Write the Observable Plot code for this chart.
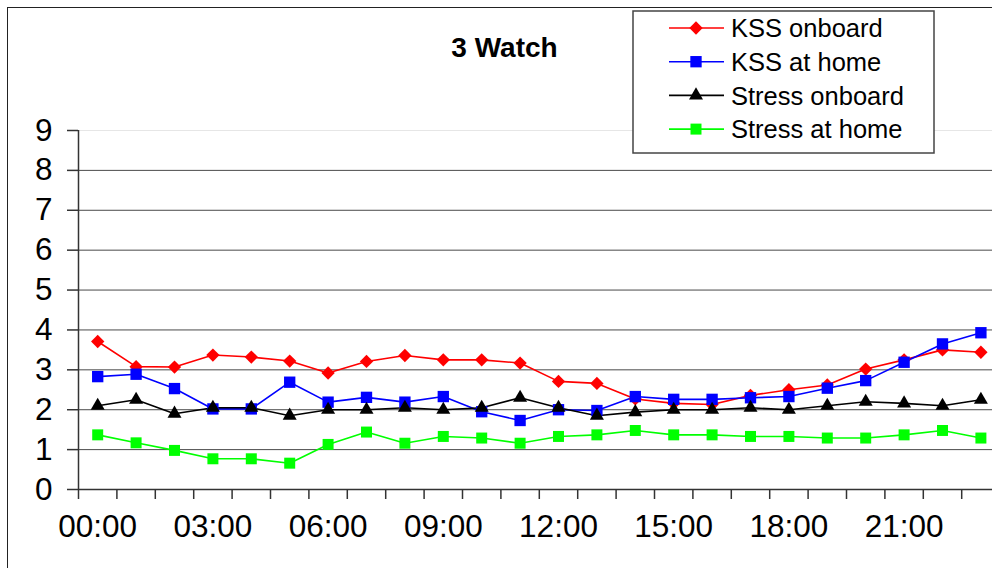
<!DOCTYPE html>
<html><head><meta charset="utf-8">
<script src="https://cdn.jsdelivr.net/npm/d3@7"></script>
<script src="https://cdn.jsdelivr.net/npm/@observablehq/plot@0.6"></script>
<style>
html,body{margin:0;padding:0;background:#fff;overflow:hidden;}
#wrap{position:relative;width:992px;height:568px;overflow:hidden;font-family:"Liberation Sans",Arial,sans-serif;}
#frame{position:absolute;left:7px;top:7px;width:1200px;height:800px;border:1.5px solid #222;box-sizing:border-box;}
#chart{position:absolute;left:0;top:0;}
#overlay{position:absolute;left:0;top:0;}
</style></head><body>
<div id="wrap"><div id="frame"></div><div id="chart"></div><svg id="overlay" width="992" height="568"></svg></div>
<script>
const title = "3 Watch";
const hours = ["00:00","01:00","02:00","03:00","04:00","05:00","06:00","07:00","08:00","09:00","10:00","11:00",
               "12:00","13:00","14:00","15:00","16:00","17:00","18:00","19:00","20:00","21:00","22:00","23:00"];
const labelHours = ["00:00","03:00","06:00","09:00","12:00","15:00","18:00","21:00"];
const yTicks = [0,1,2,3,4,5,6,7,8,9];
const kssOnboard    = [3.71,3.08,3.07,3.37,3.32,3.22,2.92,3.21,3.36,3.25,3.25,3.17,2.71,2.66,2.27,2.16,2.13,2.36,2.50,2.62,3.02,3.25,3.50,3.44];
const kssAtHome     = [2.83,2.89,2.53,2.02,2.02,2.69,2.19,2.31,2.19,2.33,1.95,1.73,2.00,1.98,2.33,2.26,2.26,2.30,2.33,2.54,2.73,3.19,3.65,3.93];
const stressOnboard = [2.10,2.25,1.90,2.05,2.05,1.85,2.00,2.00,2.05,2.00,2.05,2.30,2.05,1.85,1.94,2.00,2.00,2.05,2.00,2.10,2.20,2.16,2.10,2.25];
const stressAtHome  = [1.37,1.17,0.98,0.77,0.77,0.66,1.13,1.44,1.16,1.33,1.29,1.16,1.33,1.37,1.48,1.37,1.37,1.33,1.33,1.29,1.29,1.37,1.48,1.29];

const series = [
  {name:"KSS onboard",    values:kssOnboard,    color:"#ff0000", symbol:"diamond2", d3sym:d3.symbolDiamond2, r:6.0},
  {name:"KSS at home",    values:kssAtHome,     color:"#0000ff", symbol:"square",   d3sym:d3.symbolSquare,   r:6.4},
  {name:"Stress onboard", values:stressOnboard, color:"#000000", symbol:"triangle", d3sym:d3.symbolTriangle, r:5.2},
  {name:"Stress at home", values:stressAtHome,  color:"#00ff00", symbol:"square",   d3sym:d3.symbolSquare,   r:6.2}
];

const boundaries = d3.range(hours.length + 1).map(k => k - 0.5);
const labelIdx = labelHours.map(h => hours.indexOf(h));

const marks = [
  Plot.ruleY(yTicks.filter(v => v > 0 && v < 9), {stroke:"#4a4a4a", strokeWidth:1}),
  Plot.ruleY([9], {stroke:"#e6e6e6", strokeWidth:1}),
  Plot.axisY({ticks:yTicks, tickSize:11, tickPadding:15, fontSize:31.5, stroke:"#333", strokeWidth:1.5, tickFormat:d3.format("d"), label:null}),
  Plot.axisX({ticks:boundaries, tickSize:10, tickFormat:() => "", stroke:"#333", strokeWidth:1.5, label:null}),
  Plot.axisX({ticks:labelIdx, tickSize:0, tickPadding:25, fontSize:31.5, tickFormat:i => hours[i], label:null}),
  Plot.ruleX([-0.5], {stroke:"#333", strokeWidth:1.5}),
  Plot.ruleY([0], {stroke:"#333", strokeWidth:1.5})
];
for (const s of series) {
  const data = s.values.map((v, i) => ({i, v, hour:hours[i]}));
  marks.push(Plot.line(data, {x:"i", y:"v", stroke:s.color, strokeWidth:1.6}));
}
for (const s of series) {
  const data = s.values.map((v, i) => ({i, v, hour:hours[i]}));
  marks.push(Plot.dot(data, {x:"i", y:"v", symbol:() => s.symbol, r:s.r, fill:s.color, stroke:"none"}));
}

const chart = Plot.plot({
  width:992, height:568,
  marginLeft:78, marginRight:0, marginTop:130, marginBottom:79,
  x:{type:"linear", domain:[-0.5, hours.length - 0.5], range:[78, 78 + 38.4 * hours.length], label:null},
  y:{domain:[0, 9], label:null},
  symbol:{type:"identity"},
  style:{fontFamily:"'Liberation Sans', Arial, sans-serif", fontSize:"31.5px", color:"#000", background:"transparent", overflow:"hidden"},
  marks
});
document.getElementById("chart").appendChild(chart);

// title and legend
const ov = d3.select("#overlay");
ov.append("text").attr("x", 504.5).attr("y", 57).attr("text-anchor", "middle")
  .attr("font-family", "'Liberation Sans', Arial, sans-serif").attr("font-weight", "bold").attr("font-size", 28)
  .text(title);
const lg = ov.append("g");
lg.append("rect").attr("x", 633).attr("y", 11).attr("width", 301).attr("height", 142)
  .attr("fill", "#fff").attr("stroke", "#444").attr("stroke-width", 1.5);
series.forEach((s, k) => {
  const y = 28 + k * 33.7;
  lg.append("line").attr("x1", 669).attr("x2", 724).attr("y1", y).attr("y2", y).attr("stroke", s.color).attr("stroke-width", 1.6);
  lg.append("path").attr("d", d3.symbol(s.d3sym, Math.PI * s.r * s.r)()).attr("transform", `translate(696,${y})`).attr("fill", s.color);
  lg.append("text").attr("x", 731).attr("y", y).attr("dy", "0.36em")
    .attr("font-family", "'Liberation Sans', Arial, sans-serif").attr("font-size", 25.5).text(s.name);
});
</script>
</body></html>
